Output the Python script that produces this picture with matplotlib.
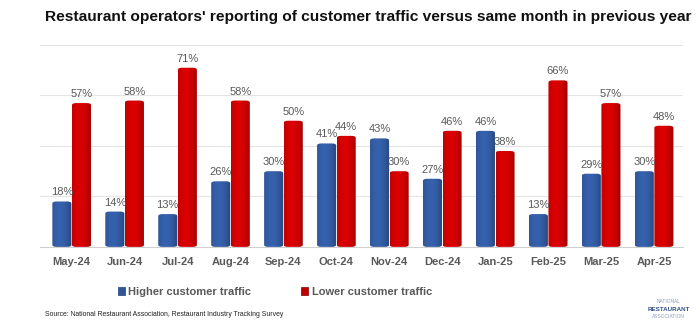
import matplotlib
matplotlib.use("Agg")
import matplotlib.pyplot as plt
import numpy as np
from matplotlib.patches import FancyBboxPatch, Patch

months = ["May-24", "Jun-24", "Jul-24", "Aug-24", "Sep-24", "Oct-24",
          "Nov-24", "Dec-24", "Jan-25", "Feb-25", "Mar-25", "Apr-25"]
higher = [18, 14, 13, 26, 30, 41, 43, 27, 46, 13, 29, 30]
lower = [57, 58, 71, 58, 50, 44, 30, 46, 38, 66, 57, 48]
series_names = ["Higher customer traffic", "Lower customer traffic"]

blue = "#2F5597"
red = "#C00000"
gray = "#595959"
FONT = "Liberation Sans"

fig = plt.figure(figsize=(7.0, 3.24), dpi=100)
ax = fig.add_axes([0.057, 0.238, 0.919, 0.623])
renderer = fig.canvas.get_renderer()

def fit(t, width_px):
    bb = t.get_window_extent(renderer)
    t.set_fontsize(t.get_fontsize() * width_px / bb.width)

x = np.arange(len(months))
w = 0.36
b1 = ax.bar(x - w / 2 - 0.005, higher, w, color=blue, label=series_names[0], zorder=3)
b2 = ax.bar(x + w / 2 + 0.005, lower, w, color=red, label=series_names[1], zorder=3)

# cylinder-like shading with rounded tops
grad = np.linspace(0, 1, 64)
shade = 1 - 2.2 * (grad - 0.4) ** 2
def shade_bars(bars, base):
    rgb = np.array(matplotlib.colors.to_rgb(base))
    for p in bars:
        x0, y0 = p.get_x(), p.get_y()
        ww, hh = p.get_width(), p.get_height()
        p.set_visible(False)
        clip = FancyBboxPatch((x0, y0), ww, hh, boxstyle="round,pad=0,rounding_size=0.08",
                              mutation_aspect=80 / 12 * 0.6 * 2.6, transform=ax.transData,
                              facecolor="none", edgecolor="none")
        ax.add_patch(clip)
        img = np.clip(rgb[None, None, :] * (0.72 + 0.42 * shade[None, :, None]), 0, 1)
        im = ax.imshow(img, extent=[x0, x0 + ww, y0, y0 + hh], aspect="auto",
                       zorder=4, interpolation="bilinear")
        im.set_clip_path(clip)
shade_bars(b1, blue)
shade_bars(b2, red)

for bars, vals in ((b1, higher), (b2, lower)):
    for p, v in zip(bars, vals):
        ax.text(p.get_x() + p.get_width() / 2, v + 1.6, f"{v}%", ha="center",
                va="bottom", fontsize=8, color=gray, zorder=5, family=FONT)

ax.set_ylim(0, 80)
ax.set_xlim(-0.6, len(months) - 0.45)
ax.set_yticks([20, 40, 60, 80])
ax.yaxis.grid(True, color="#E4E4E4", linewidth=0.8, zorder=0)
ax.tick_params(axis="y", left=False, labelleft=False)
ax.tick_params(axis="x", length=0, pad=7)
ax.set_xticks(x)
ax.set_xticklabels(months, fontsize=8, fontweight="bold", color=gray, family=FONT)
for s in ["top", "right", "left"]:
    ax.spines[s].set_visible(False)
ax.spines["bottom"].set_color("#D0D0D0")

title = fig.text(0.526, 0.948, "Restaurant operators' reporting of customer traffic versus same month in previous year",
                 ha="center", va="center", fontsize=12, fontweight="bold",
                 family=FONT, color="#111111")
fit(title, 643)

handles = [Patch(facecolor=blue, edgecolor="#1F3F7A", linewidth=0.5),
           Patch(facecolor=red, edgecolor="#800000", linewidth=0.5)]
leg = fig.legend(handles=handles, labels=series_names, loc="center",
                 bbox_to_anchor=(0.393, 0.10), ncol=2, frameon=False,
                 handlelength=0.6, handleheight=0.7,
                 handletextpad=0.35, columnspacing=4.5,
                 prop={"family": FONT, "size": 8, "weight": "bold"})
for t in leg.get_texts():
    t.set_color(gray)

src = fig.text(0.064, 0.028, "Source: National Restaurant Association, Restaurant Industry Tracking Survey",
               fontsize=6, color="#222222", va="center", family=FONT)
fit(src, 242)

fig.text(0.955, 0.07, "NATIONAL", fontsize=3.5, color="#8A9BB8", ha="center", va="center", family=FONT)
fig.text(0.955, 0.045, "RESTAURANT", fontsize=4.5, color="#2F4F8A", ha="center", va="center", fontweight="bold", family=FONT)
fig.text(0.955, 0.022, "ASSOCIATION", fontsize=3.5, color="#8A9BB8", ha="center", va="center", family=FONT)

fig.savefig("out.png", dpi=100)
